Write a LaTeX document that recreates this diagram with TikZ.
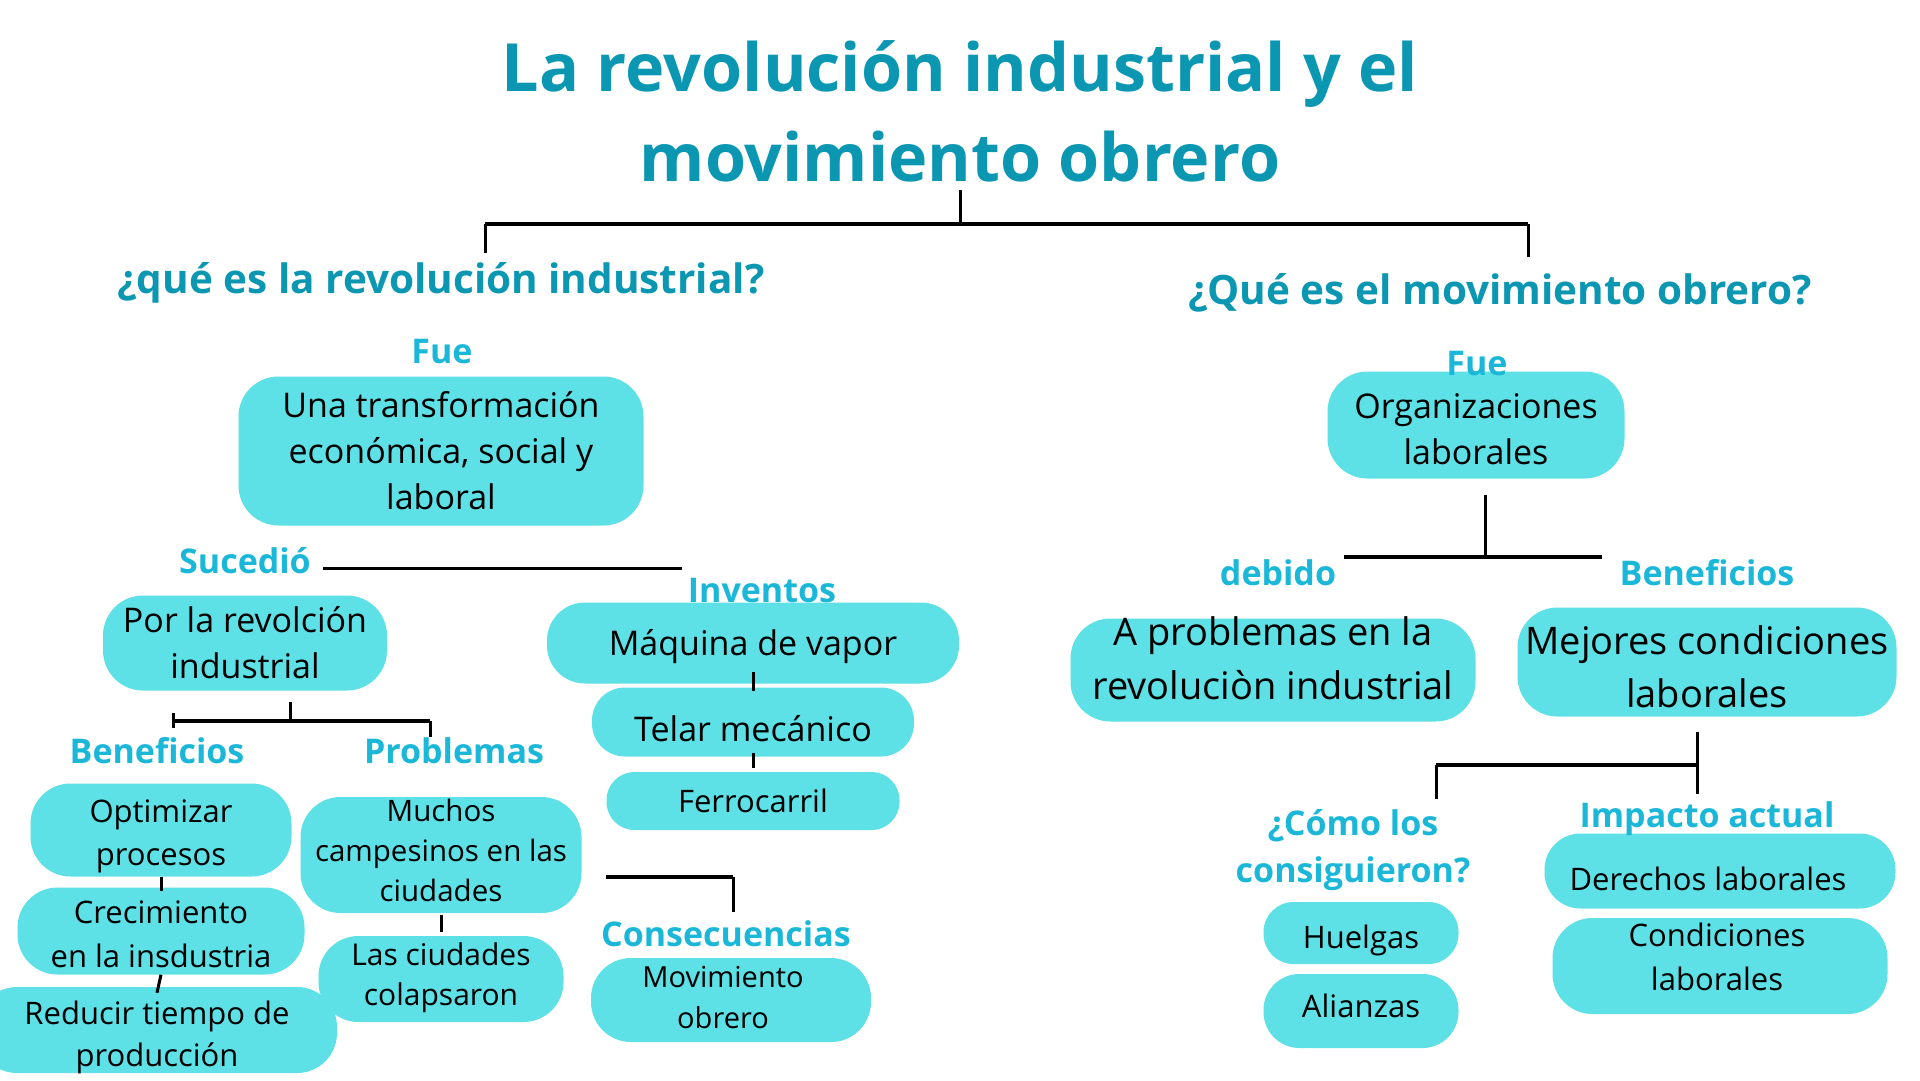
\documentclass[tikz,border=0pt]{standalone}
\usepackage{fontspec}
\setmainfont{Open Sans}
\definecolor{titleteal}{RGB}{11,151,178}
\definecolor{labelcyan}{RGB}{27,183,216}
\definecolor{boxfill}{RGB}{93,224,230}

\begin{document}
\begin{tikzpicture}[x=1pt,y=-1pt,
    box/.style={fill=boxfill, rounded corners=#1, inner sep=0pt, align=center,
      font=\fontsize{34}{46}\selectfont},
    box/.default=40pt,
    tdrop/.style={text height=#1, text depth=0pt},
    lbl/.style={text=labelcyan, inner sep=0pt, anchor=base, align=center,
      font=\bfseries\fontsize{34}{47}\selectfont},
    head/.style={text=titleteal, inner sep=0pt, anchor=base,
      font=\bfseries\fontsize{40.5}{54}\selectfont},
    conn/.style={line width=3pt},
    bar/.style={line width=4.5pt}]
  \useasboundingbox (0,0) rectangle (1920,1080);

  % title and the two questions
  \node[head, font=\bfseries\fontsize{66.5}{90}\selectfont] (title) at (960,91) {La revolución industrial y el};
  \node[head, font=\bfseries\fontsize{66.5}{90}\selectfont] (title2) at (960,181) {movimiento obrero};
  \node[head] (q1) at (441,293) {¿qué es la revolución industrial?};
  \node[head] (q2) at (1500,304) {¿Qué es el movimiento obrero?};
  \coordinate (tl) at (485,224);
  \coordinate (tr) at (1528,224);
  \draw[conn] ([yshift=-9pt]title2.base) -- (title2.base |- tl);
  \draw[bar] (tl) -- (tr);
  \draw[conn] (tl) -- ++(0,29);
  \draw[conn] (tr) -- ++(0,33);

  % left: revolucion industrial
  \node[box, minimum width=405pt, minimum height=149pt] (trans) at (441,451) {Una transformación\\económica, social y\\laboral};
  \node[box, minimum width=284pt, minimum height=95pt] (revol) at (245,643) {Por la revolción\\industrial};
  \node[box=38pt, tdrop=24pt, minimum width=412pt, minimum height=81pt] (vapor) at (753,643) {Máquina de vapor};
  \node[box=33pt, tdrop=38pt, minimum width=322pt, minimum height=69pt] (telar) at (753,722) {Telar mecánico};
  \node[box=28pt, minimum width=293pt, minimum height=58pt, font=\fontsize{31}{42}\selectfont] (ferro) at (753,801) {Ferrocarril};
  \node[box, tdrop=70pt, minimum width=261pt, minimum height=93pt, font=\fontsize{31}{43}\selectfont] (optim) at (161,830) {Optimizar\\procesos};
  \node[box, tdrop=72pt, minimum width=287pt, minimum height=87pt, font=\fontsize{31}{44}\selectfont] (crec) at (161,931) {Crecimiento\\en la insdustria};
  \node[box, tdrop=72pt, minimum width=360pt, minimum height=86pt, font=\fontsize{31}{42}\selectfont] (reduc) at (157,1030) {Reducir tiempo de\\producción};
  \node[box, tdrop=92pt, minimum width=281pt, minimum height=116pt, font=\fontsize{29.5}{40}\selectfont] (muchos) at (441,855) {Muchos\\campesinos en las\\ciudades};
  \node[box, tdrop=52pt, minimum width=245pt, minimum height=86pt, font=\fontsize{30}{40}\selectfont] (colap) at (441,979) {Las ciudades\\colapsaron};
  \node[box, tdrop=56pt, minimum width=280pt, minimum height=84pt, font=\fontsize{29}{41}\selectfont] (movim) at (731,1000) {Movimiento\kern16pt\\obrero\kern16pt};

  \node[lbl] (fue1) at (442,363) {Fue};
  \node[lbl] (suc) at (245,573) {Sucedió};
  \node[lbl] (inv) at (762,602) {Inventos};
  \node[lbl] (ben1) at (157,763) {Beneficios};
  \node[lbl] (prob) at (454,763) {Problemas};
  \node[lbl] (cons) at (726,946) {Consecuencias};

  \draw[conn] ([xshift=12pt,yshift=5pt]suc.base east) -- +(359,0);
  \draw[conn] ([yshift=12pt]vapor.south) -- ([yshift=-4pt]telar.north);
  \draw[conn] ([yshift=4pt]telar.south) -- ([yshift=4pt]ferro.north);
  \coordinate (rl) at (173,721);
  \coordinate (rr) at (430,721);
  \draw[conn] (revol.south -| 290,0) ++(0,11) -- (290,721);
  \draw[bar] (rl) -- (rr);
  \draw[conn] ([yshift=8pt]rl) -- ([yshift=-7pt]rl);
  \draw[conn] (rr) -- ++(0,16);
  \draw[conn] (optim.south) -- ([yshift=-4pt]crec.north);
  \draw[conn] (crec.south) -- ([yshift=-6pt]reduc.north);
  \draw[conn] ([yshift=-2pt]muchos.south) -- ([yshift=4pt]colap.north);
  \coordinate (cj) at (733,877);
  \draw[bar] ([xshift=24pt]muchos.east |- cj) -- (cj);
  \draw[conn] (cj) -- ++(0,35);

  % right: movimiento obrero
  \node[box, tdrop=78pt, minimum width=297pt, minimum height=107pt] (organ) at (1476,425) {Organizaciones\\laborales};
  \node[box, tdrop=58pt, minimum width=405pt, minimum height=103pt, font=\fontsize{38}{54}\selectfont] (aprob) at (1273,670) {A problemas en la\\revoluciòn industrial};
  \node[box, tdrop=90pt, minimum width=379pt, minimum height=109pt, font=\fontsize{38}{53}\selectfont] (mejor) at (1707,662) {Mejores condiciones\\laborales};
  \node[box=36pt, tdrop=38pt, minimum width=351pt, minimum height=75pt, font=\fontsize{31}{42}\selectfont] (derech) at (1720,871) {Derechos laborales\kern24pt};
  \node[box, tdrop=48pt, minimum width=335pt, minimum height=96pt, font=\fontsize{31}{44}\selectfont] (condic) at (1720,966) {Condiciones\kern6pt\\laborales\kern6pt};
  \node[box=30pt, tdrop=30pt, minimum width=195pt, minimum height=62pt, font=\fontsize{31}{42}\selectfont] (huelg) at (1361,933) {Huelgas};
  \node[box=36pt, tdrop=12pt, minimum width=195pt, minimum height=74pt, font=\fontsize{31}{42}\selectfont] (alian) at (1361,1011) {Alianzas};

  \node[lbl] (fue2) at (1477,375) {Fue};
  \node[lbl] (deb) at (1278,585) {debido};
  \node[lbl] (ben2) at (1707,585) {Beneficios};
  \node[lbl] (como) at (1353,882) {¿Cómo los\\consiguieron?};
  \node[lbl] (impac) at (1707,827) {Impacto actual};

  \coordinate (oj) at (1485,557);
  \draw[conn] ([xshift=9pt,yshift=-16pt]organ.south) -- (oj);
  \draw[bar] (1344,557) -- (1602,557);
  \coordinate (mj) at (1697,765);
  \draw[conn] ([xshift=-10pt,yshift=-15pt]mejor.south) -- ++(0,62);
  \draw[bar] (mj) -- (1436,765);
  \draw[conn] (1436,765) -- ++(0,34);
\end{tikzpicture}
\end{document}
